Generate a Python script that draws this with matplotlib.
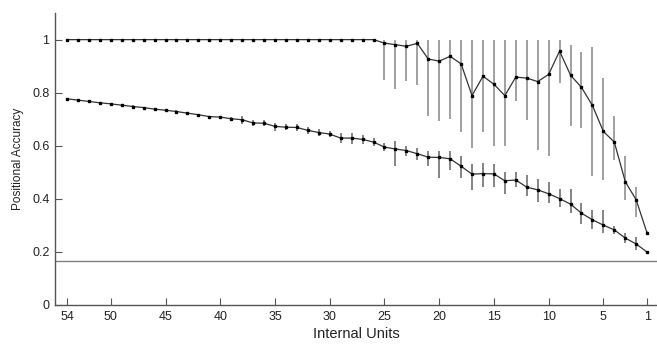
import matplotlib
matplotlib.use("Agg")
import matplotlib.pyplot as plt
import numpy as np

plt.rcParams['font.family'] = ['Liberation Sans', 'DejaVu Sans']

# Number of internal units (x axis, reversed)
units = list(range(54, 0, -1))

# Upper series: mean accuracy, lower and upper bounds of the error bars
upper_mean = [1.0] * 29 + [
    0.987, 0.981, 0.975, 0.986, 0.927, 0.919, 0.937, 0.909, 0.789, 0.862,
    0.832, 0.789, 0.859, 0.855, 0.842, 0.869, 0.957, 0.866, 0.820, 0.752,
    0.654, 0.614, 0.465, 0.396, 0.270]
upper_low = [1.0] * 29 + [
    0.849, 0.815, 0.845, 0.829, 0.711, 0.692, 0.700, 0.652, 0.591, 0.652,
    0.600, 0.600, 0.767, 0.697, 0.584, 0.560, 0.836, 0.673, 0.667, 0.487,
    0.472, 0.547, 0.396, 0.333, 0.262]
upper_high = [1.0] * 29 + [
    1.0, 1.0, 1.0, 1.0, 1.0, 1.0, 1.0, 1.0, 1.0, 1.0,
    1.0, 1.0, 1.0, 1.0, 1.0, 1.0, 1.0, 0.978, 0.953, 0.972,
    0.855, 0.711, 0.560, 0.446, 0.278]

# Lower series: mean accuracy and error half-widths (below / above)
lower_mean = [
    0.777, 0.772, 0.767, 0.762, 0.758, 0.753, 0.748, 0.744, 0.738, 0.734,
    0.729, 0.723, 0.717, 0.710, 0.708, 0.702, 0.698, 0.686, 0.685, 0.673,
    0.670, 0.669, 0.658, 0.650, 0.644, 0.629, 0.629, 0.624, 0.614, 0.595,
    0.588, 0.582, 0.570, 0.557, 0.556, 0.551, 0.523, 0.493, 0.495, 0.494,
    0.468, 0.471, 0.444, 0.434, 0.419, 0.401, 0.380, 0.346, 0.321, 0.301,
    0.283, 0.252, 0.230, 0.199]
lower_err_lo = [0.004] * 14 + [
    0.006, 0.008, 0.016, 0.012, 0.012, 0.016, 0.012, 0.013, 0.012, 0.014,
    0.012, 0.019, 0.023, 0.018, 0.016, 0.016, 0.066, 0.022, 0.023, 0.035,
    0.076, 0.042, 0.045, 0.059, 0.049, 0.050, 0.050, 0.025, 0.035, 0.047,
    0.035, 0.032, 0.034, 0.040, 0.035, 0.030, 0.015, 0.019, 0.022, 0.005]
lower_err_hi = [0.004] * 14 + [
    0.006, 0.008, 0.013, 0.012, 0.012, 0.013, 0.012, 0.012, 0.012, 0.012,
    0.012, 0.019, 0.019, 0.018, 0.015, 0.015, 0.029, 0.019, 0.021, 0.022,
    0.023, 0.028, 0.040, 0.040, 0.041, 0.037, 0.032, 0.029, 0.047, 0.040,
    0.046, 0.036, 0.057, 0.038, 0.037, 0.057, 0.013, 0.019, 0.025, 0.005]

chance_level = 1 / 6

xticks = [54, 50, 45, 40, 35, 30, 25, 20, 15, 10, 5, 1]
yticks = [0, 0.2, 0.4, 0.6, 0.8, 1]
ytick_labels = ["0", "0.2", "0.4", "0.6", "0.8", "1"]

fig = plt.figure(figsize=(6.57, 3.45), dpi=100)
ax = fig.add_axes([0.0837, 0.116, 0.9163, 0.846])

x = np.array(units)
um = np.array(upper_mean)
uerr = [um - np.array(upper_low), np.array(upper_high) - um]
lm = np.array(lower_mean)
lerr = [np.array(lower_err_lo), np.array(lower_err_hi)]

line_color = "#333333"

ax.errorbar(x, um, yerr=uerr, fmt='none', ecolor="#999999", elinewidth=1.3,
            capsize=0, zorder=2)
ax.plot(x, um, color=line_color, lw=0.9, marker='s', markersize=1.5,
        markerfacecolor='black', markeredgecolor='black', zorder=3)

ax.errorbar(x, lm, yerr=lerr, fmt='none', ecolor="#707070", elinewidth=1.2,
            capsize=0, zorder=2)
ax.plot(x, lm, color=line_color, lw=0.9, marker='s', markersize=1.5,
        markerfacecolor='black', markeredgecolor='black', zorder=3)

ax.axhline(chance_level, color="#808080", lw=1.0, zorder=1)

ax.set_xlim(55.1, 0.1)
ax.set_ylim(0, 1.1)
ax.set_xticks(xticks)
ax.set_xticklabels([str(t) for t in xticks])
ax.set_yticks(yticks)
ax.set_yticklabels(ytick_labels)

for s in ['top', 'right']:
    ax.spines[s].set_visible(False)
for s in ['left', 'bottom']:
    ax.spines[s].set_color("#555555")
    ax.spines[s].set_linewidth(1.0)

ax.tick_params(axis='both', direction='in', length=5, width=0.8,
               color="#555555", labelsize=9, labelcolor="#222222")
ax.tick_params(axis='x', pad=4)
ax.tick_params(axis='y', pad=4)

ax.set_xlabel("Internal Units", fontsize=10.5, color="#222222", labelpad=3)
ax.set_ylabel("Positional Accuracy", fontsize=8.5, color="#222222", labelpad=6)

fig.savefig("out.png", dpi=100)
